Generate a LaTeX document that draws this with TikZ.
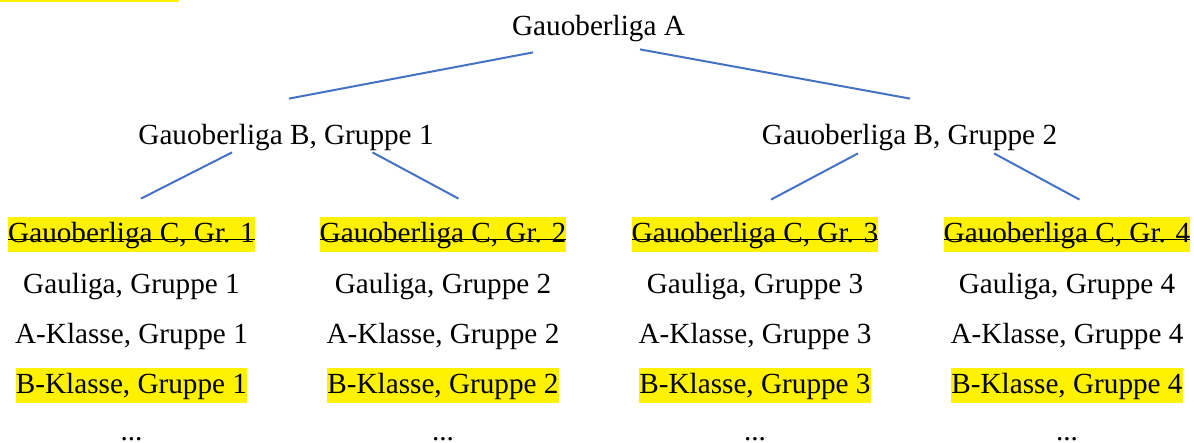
\documentclass[tikz,border=0pt]{standalone}
\usepackage{fontspec}
\setmainfont{Liberation Serif}
\usetikzlibrary{positioning}
\definecolor{linieblau}{RGB}{68,114,196}

\begin{document}
\begin{tikzpicture}[x=0.5pt, y=-0.5pt,
    Liga/.style={rectangle, inner xsep=0pt, inner ysep=0pt, text height=13pt, text depth=4.5pt, font=\fontsize{14.6pt}{17pt}\selectfont},
    Gelb/.style={Liga, fill=yellow},
    Gestr/.style={Gelb, path picture={\draw[line width=0.9pt] ([yshift=-2.5pt]path picture bounding box.west) -- ([yshift=-2.5pt]path picture bounding box.east);}},
    Punkte/.style={Liga, text height=2pt, text depth=0pt},
    Verb/.style={linieblau, line width=1pt}]

    \useasboundingbox (0,0) rectangle (1194,443);
    \fill[yellow] (0,0) rectangle (179,2.5);

    \node[Liga] (A) at (598.5,27.5) {Gauoberliga A};
    \node[Liga] (B1) at (286,136.5) {Gauoberliga B, Gruppe 1};
    \node[Liga] (B2) at (909.5,136.5) {Gauoberliga B, Gruppe 2};

    \foreach \i/\x in {1/131.5, 2/443, 3/755, 4/1067} {
        \node[Gestr] (C\i) at (\x,234.5) {Gauoberliga C, Gr. \i};
        \node[Liga, below=7.25pt of C\i] (G\i) {Gauliga, Gruppe \i};
        \node[Liga, below=7.25pt of G\i] (KA\i) {A-Klasse, Gruppe \i};
        \node[Gelb, below=7.25pt of KA\i] (KB\i) {B-Klasse, Gruppe \i};
        \node[Punkte, below=16.5pt of KB\i] (P\i) {...};
    }

    \draw[Verb] ([shift={(-65.5,7)}]A.south) -- ([shift={(3,-20)}]B1.north);
    \draw[Verb] ([shift={(41.5,4)}]A.south) -- ([shift={(0.5,-20)}]B2.north);
    \draw[Verb] ([shift={(-54,-2)}]B1.south) -- ([shift={(9.5,-18)}]C1.north);
    \draw[Verb] ([shift={(86.5,-2)}]B1.south) -- ([shift={(15.5,-18)}]C2.north);
    \draw[Verb] ([shift={(-51.5,-1)}]B2.south) -- ([shift={(16,-17)}]C3.north);
    \draw[Verb] ([shift={(84.5,-1)}]B2.south) -- ([shift={(12.5,-17)}]C4.north);
\end{tikzpicture}
\end{document}
